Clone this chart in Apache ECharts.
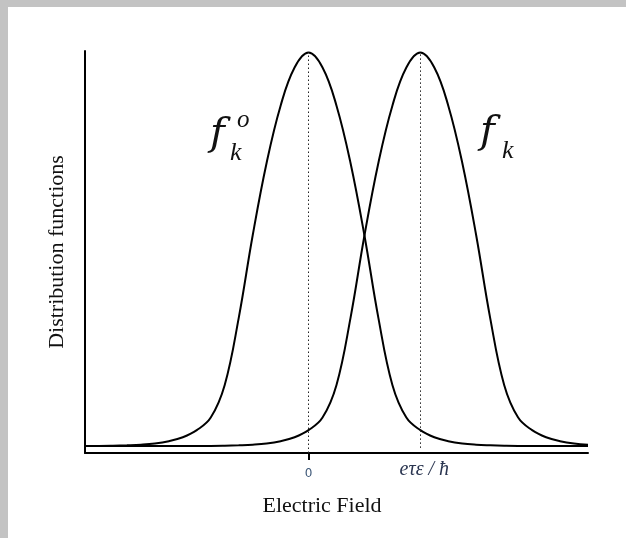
<!DOCTYPE html>
<html>
<head>
<meta charset="utf-8">
<script src="https://cdn.jsdelivr.net/npm/echarts@6/dist/echarts.min.js"></script>
<style>
  html, body { margin: 0; padding: 0; background: #c3c3c3; width: 626px; height: 538px; overflow: hidden; }
  #chart { position: absolute; left: 8px; top: 7px; width: 618px; height: 531px; background: #ffffff; }
</style>
</head>
<body>
<div id="chart"></div>
<script>
// Electric field positions (units: 0 = equilibrium, 2 = e·tau·E/hbar shift)
const fieldX = [-4, -3.75, -3.5, -3.25, -3, -2.75, -2.5, -2.25, -2, -1.75, -1.5, -1.25, -1, -0.75, -0.5, -0.25,
                0, 0.25, 0.5, 0.75, 1, 1.25, 1.5, 1.75, 2, 2.25, 2.5, 2.75, 3, 3.25, 3.5, 3.75, 4, 4.25, 4.5, 4.75, 5];
// Equilibrium distribution f_k^o
const f0Values = [0, 0, 0.0005, 0.0015, 0.003, 0.006, 0.012, 0.022, 0.04, 0.072, 0.155, 0.325, 0.535, 0.72, 0.865, 0.962,
                  1, 0.962, 0.865, 0.72, 0.535, 0.325, 0.155, 0.072, 0.04, 0.022, 0.012, 0.006, 0.003, 0.0015, 0.0005, 0, 0, 0, 0, 0, 0];
// Shifted distribution f_k
const fkValues = [0, 0, 0, 0, 0, 0, 0, 0, 0, 0, 0.0005, 0.0015, 0.003, 0.006, 0.012, 0.022,
                  0.04, 0.072, 0.155, 0.325, 0.535, 0.72, 0.865, 0.962, 1, 0.962, 0.865, 0.72, 0.535, 0.325, 0.155, 0.072, 0.04, 0.022, 0.012, 0.006, 0.003];
// Tick labels
const tickValues = [0, 2];
const tickLabels = ['0', 'eτε / ħ'];
const peakMarks = [0, 2];

const chart = echarts.init(document.getElementById('chart'), null, { renderer: 'canvas' });

function pairs(xs, ys) { return xs.map((x, i) => [x, ys[i]]); }

const dottedStyle = { type: [1.5, 2.5], width: 1, color: '#222' };

const option = {
  animation: false,
  backgroundColor: '#ffffff',
  grid: { left: 77, right: 38, top: 44, bottom: 85 },
  xAxis: {
    type: 'value',
    min: -4, max: 5,
    name: 'Electric Field',
    nameLocation: 'middle',
    nameGap: 42,
    nameTextStyle: { fontFamily: 'Liberation Serif', fontSize: 22, color: '#111', padding: [0, 29, 0, 0] },
    axisLine: { onZero: false, lineStyle: { color: '#000', width: 2 } },
    axisTick: { show: true, customValues: [peakMarks[0]], length: 7, lineStyle: { color: '#000', width: 2 } },
    axisLabel: {
      customValues: tickValues,
      margin: 7,
      formatter: function (v) {
        const i = tickValues.indexOf(v);
        return i === 0 ? '{z|' + tickLabels[0] + '}' : '{e|' + tickLabels[1] + '}';
      },
      rich: {
        z: { fontFamily: 'DejaVu Sans', fontSize: 12, color: '#3e5878', padding: [8, 0, 0, 0] },
        e: { fontFamily: 'Liberation Serif', fontStyle: 'italic', fontSize: 20, color: '#2a3550', padding: [0, 0, 0, 8] }
      }
    },
    splitLine: { show: false }
  },
  yAxis: {
    type: 'value',
    min: -0.018, max: 1.004,
    name: 'Distribution functions',
    nameLocation: 'middle',
    nameGap: 17,
    nameTextStyle: { fontFamily: 'Liberation Serif', fontSize: 22, color: '#111' },
    axisLine: { show: true, onZero: false, lineStyle: { color: '#000', width: 2 } },
    axisTick: { show: false },
    axisLabel: { show: false },
    splitLine: { show: false }
  },
  series: [
    {
      name: 'f_k^o',
      type: 'line',
      data: pairs(fieldX, f0Values),
      smooth: 0.4,
      showSymbol: false,
      lineStyle: { color: '#000', width: 2 },
      markLine: {
        silent: true, symbol: 'none', label: { show: false },
        lineStyle: dottedStyle,
        data: [[{ coord: [peakMarks[0], -0.018] }, { coord: [peakMarks[0], 1] }]]
      }
    },
    {
      name: 'f_k',
      type: 'line',
      data: pairs(fieldX, fkValues),
      smooth: 0.4,
      showSymbol: false,
      lineStyle: { color: '#000', width: 2 },
      markLine: {
        silent: true, symbol: 'none', label: { show: false },
        lineStyle: dottedStyle,
        data: [[{ coord: [peakMarks[1], -0.005] }, { coord: [peakMarks[1], 1] }]]
      }
    }
  ],
  graphic: [
    { type: 'text', left: 202, top: 108, style: { text: 'f', font: 'italic 40px "DejaVu Serif"', fill: '#111' } },
    { type: 'text', left: 229, top: 101, style: { text: 'o', font: 'italic 25px "Liberation Serif"', fill: '#111' } },
    { type: 'text', left: 222, top: 133, style: { text: 'k', font: 'italic 26px "Liberation Serif"', fill: '#111' } },
    { type: 'text', left: 472, top: 106, style: { text: 'f', font: 'italic 40px "DejaVu Serif"', fill: '#111' } },
    { type: 'text', left: 494, top: 131, style: { text: 'k', font: 'italic 26px "Liberation Serif"', fill: '#111' } }
  ]
};

chart.setOption(option);
</script>
</body>
</html>
